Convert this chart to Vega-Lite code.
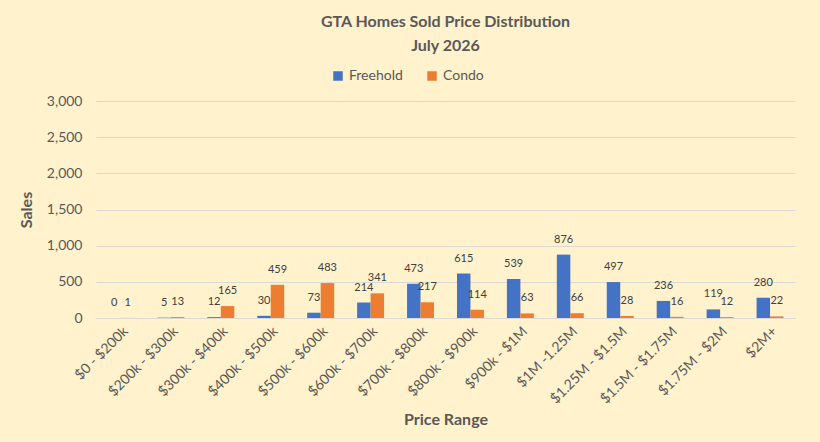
{
  "$schema": "https://vega.github.io/schema/vega-lite/v6.json",
  "autosize": {"type": "fit", "contains": "padding"},
  "width": 820,
  "height": 442,
  "padding": {"left": 18, "right": 25, "top": 14, "bottom": 14},
  "background": "#FFF2CC",
  "title": {
    "text": ["GTA Homes Sold Price Distribution", "July 2026"],
    "fontSize": 16,
    "font": "Lato",
    "fontWeight": "bold",
    "color": "#595959",
    "lineHeight": 24,
    "offset": 40
  },
  "data": {
    "values": [
      {"range": "$0 - $200k", "type": "Freehold", "sales": 0},
      {"range": "$0 - $200k", "type": "Condo", "sales": 1},
      {"range": "$200k - $300k", "type": "Freehold", "sales": 5},
      {"range": "$200k - $300k", "type": "Condo", "sales": 13},
      {"range": "$300k - $400k", "type": "Freehold", "sales": 12},
      {"range": "$300k - $400k", "type": "Condo", "sales": 165},
      {"range": "$400k - $500k", "type": "Freehold", "sales": 30},
      {"range": "$400k - $500k", "type": "Condo", "sales": 459},
      {"range": "$500k - $600k", "type": "Freehold", "sales": 73},
      {"range": "$500k - $600k", "type": "Condo", "sales": 483},
      {"range": "$600k - $700k", "type": "Freehold", "sales": 214},
      {"range": "$600k - $700k", "type": "Condo", "sales": 341},
      {"range": "$700k - $800k", "type": "Freehold", "sales": 473},
      {"range": "$700k - $800k", "type": "Condo", "sales": 217},
      {"range": "$800k - $900k", "type": "Freehold", "sales": 615},
      {"range": "$800k - $900k", "type": "Condo", "sales": 114},
      {"range": "$900k - $1M", "type": "Freehold", "sales": 539},
      {"range": "$900k - $1M", "type": "Condo", "sales": 63},
      {"range": "$1M -1.25M", "type": "Freehold", "sales": 876},
      {"range": "$1M -1.25M", "type": "Condo", "sales": 66},
      {"range": "$1.25M - $1.5M", "type": "Freehold", "sales": 497},
      {"range": "$1.25M - $1.5M", "type": "Condo", "sales": 28},
      {"range": "$1.5M - $1.75M", "type": "Freehold", "sales": 236},
      {"range": "$1.5M - $1.75M", "type": "Condo", "sales": 16},
      {"range": "$1.75M - $2M", "type": "Freehold", "sales": 119},
      {"range": "$1.75M - $2M", "type": "Condo", "sales": 12},
      {"range": "$2M+", "type": "Freehold", "sales": 280},
      {"range": "$2M+", "type": "Condo", "sales": 22}
    ]
  },
  "encoding": {
    "x": {
      "field": "range",
      "type": "nominal",
      "sort": null,
      "title": "Price Range",
      "scale": {"paddingInner": 0.46, "paddingOuter": 0.23},
      "axis": {
        "labelAngle": -45,
        "labelFontSize": 14,
        "labelColor": "#595959",
        "titleFontSize": 16,
        "titleFontWeight": "bold",
        "titleColor": "#595959",
        "titlePadding": 6,
        "domainColor": "#D9D9D9",
        "ticks": false,
        "labelPadding": 6
      }
    },
    "xOffset": {"field": "type", "sort": ["Freehold", "Condo"]},
    "y": {
      "field": "sales",
      "type": "quantitative",
      "title": "Sales",
      "scale": {"domain": [0, 3000]},
      "axis": {
        "values": [0, 500, 1000, 1500, 2000, 2500, 3000],
        "format": ",d",
        "labelFontSize": 14,
        "labelColor": "#595959",
        "titleFontSize": 16,
        "titleFontWeight": "bold",
        "titleColor": "#595959",
        "titlePadding": 12,
        "gridColor": "#D9D9D9",
        "domain": false,
        "ticks": false,
        "labelPadding": 14
      }
    }
  },
  "layer": [
    {
      "mark": {"type": "bar"},
      "encoding": {
        "color": {
          "field": "type",
          "type": "nominal",
          "sort": ["Freehold", "Condo"],
          "scale": {"domain": ["Freehold", "Condo"], "range": ["#4472C4", "#ED7D31"]},
          "legend": {
            "title": null,
            "orient": "none",
            "legendX": 235,
            "legendY": -32,
            "direction": "horizontal",
            "symbolType": "square",
            "symbolSize": 90,
            "labelFontSize": 14,
            "labelColor": "#595959",
            "columnPadding": 22
          }
        }
      }
    },
    {
      "mark": {"type": "text", "baseline": "bottom", "dy": -10, "fontSize": 11, "color": "#404040", "font": "Lato"},
      "encoding": {"text": {"field": "sales", "type": "quantitative"}}
    }
  ],
  "config": {
    "font": "Lato",
    "view": {"stroke": null}
  }
}
